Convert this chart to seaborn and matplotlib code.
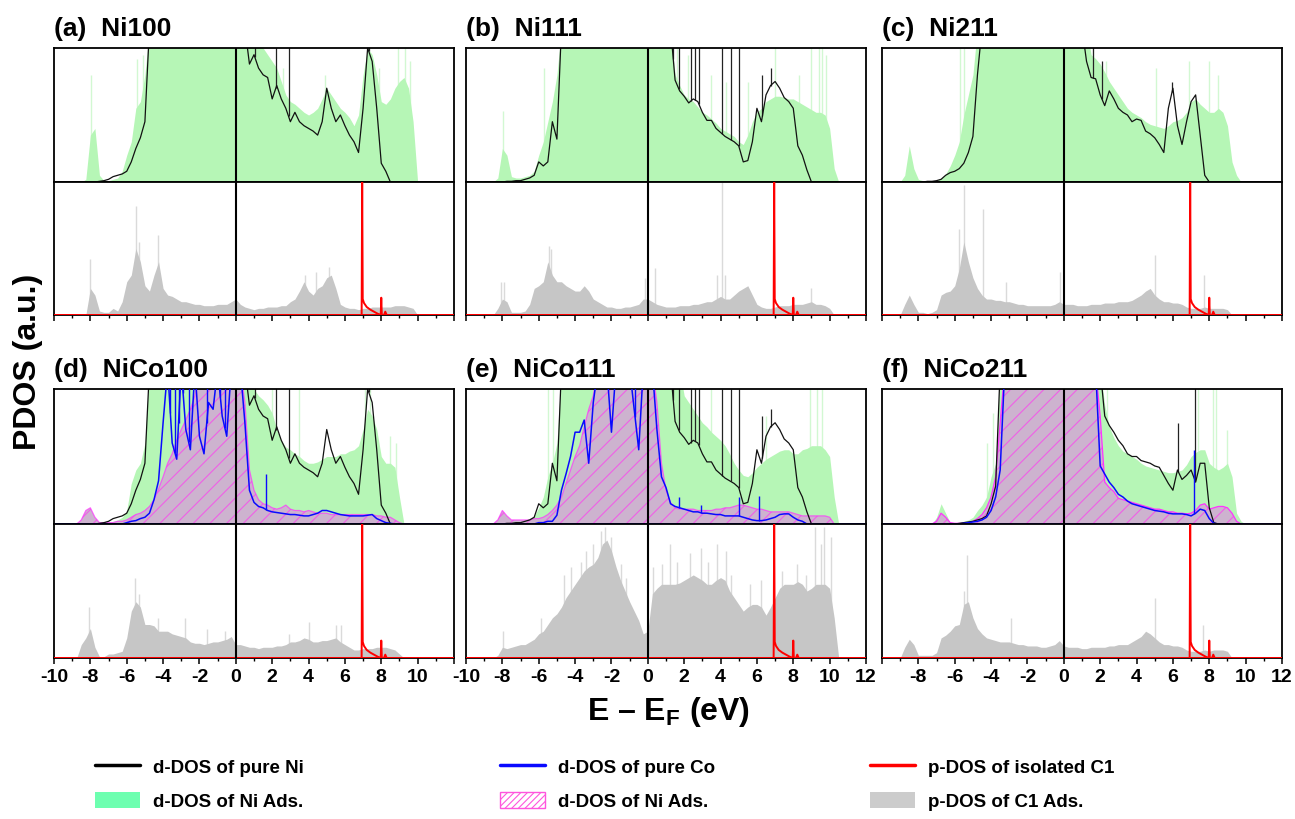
import numpy as np
import matplotlib
matplotlib.use('Agg')
import matplotlib.pyplot as plt
import seaborn as sns
from matplotlib.patches import Patch
from matplotlib.lines import Line2D
from matplotlib.ticker import MultipleLocator
from matplotlib import font_manager

# energy grid (eV), 0.25 eV step, -9 ... 10.75
E = np.arange(-9.0, 10.76, 0.25)

# ---- (a) Ni100 ----
green_a = [0, 0, 0, 2, 35, 40, 5, 1,
           1, 2, 3, 8, 20, 30, 55, 60,
           80, 115, 115, 115, 115, 115, 115, 115,
           115, 115, 115, 115, 115, 115, 115, 115,
           115, 115, 115, 115, 115, 115, 115, 115,
           115, 115, 100, 95, 90, 85, 75, 65,
           60, 58, 55, 52, 50, 52, 55, 62,
           70, 65, 60, 55, 52, 48, 42, 50,
           80, 100, 95, 80, 60, 58, 62, 70,
           75, 78, 70, 45, 0, 0, 0, 0]
black_100 = [0, 0, 0, 0, 0, 0, 0.5, 1,
             2, 4, 5, 6, 8, 15, 25, 33,
             45, 115, 115, 115, 115, 115, 115, 115,
             115, 115, 115, 115, 115, 115, 115, 115,
             115, 115, 115, 115, 115, 115, 115, 88,
             95, 85, 80, 78, 62, 72, 62, 55,
             45, 52, 45, 42, 40, 38, 35, 45,
             70, 55, 45, 50, 42, 35, 30, 22,
             55, 100, 90, 55, 14, 8, 0, 0,
             0, 0, 0, 0, 0, 0, 0, 0]
grey_a = [0, 0, 0, 0, 20, 15, 3, 2,
          2, 5, 3, 10, 25, 30, 50, 40,
          22, 18, 30, 40, 20, 15, 14, 12,
          10, 10, 9, 8, 8, 7, 7, 7,
          8, 8, 8, 10, 12, 8, 6, 5,
          4, 5, 5, 6, 6, 6, 7, 7,
          10, 12, 18, 25, 18, 15, 20, 22,
          28, 30, 20, 8, 6, 5, 5, 4,
          5, 5, 6, 6, 6, 6, 6, 7,
          7, 7, 6, 5, 0, 0, 0, 0]

# ---- (b) Ni111 ----
green_b = [0, 0, 0, 3, 25, 20, 4, 3,
           3, 4, 5, 8, 20, 30, 45, 60,
           80, 115, 115, 115, 115, 115, 115, 115,
           115, 115, 115, 115, 115, 115, 115, 115,
           115, 115, 115, 115, 115, 115, 115, 115,
           115, 115, 80, 72, 65, 62, 60, 56,
           52, 50, 47, 44, 40, 38, 36, 34,
           30, 28, 35, 45, 52, 55, 60, 62,
           64, 64, 63, 62, 62, 60, 58, 56,
           54, 52, 52, 50, 40, 10, 0, 0]
black_111 = [0, 0, 0, 0, 0, 0.5, 0.5, 1,
             1, 2, 3, 5, 15, 12, 15, 45,
             32, 115, 115, 115, 115, 115, 115, 115,
             115, 115, 115, 115, 115, 115, 115, 115,
             115, 115, 115, 115, 115, 115, 115, 115,
             115, 115, 76, 68, 64, 59, 62, 60,
             52, 46, 46, 40, 37, 34, 32, 30,
             27, 15, 16, 30, 55, 45, 65, 72,
             75, 70, 63, 60, 55, 27, 20, 9,
             0, 0, 0, 0, 0, 0, 0, 0]
grey_b = [0, 0, 0, 5, 12, 10, 2, 2,
          2, 3, 8, 20, 22, 25, 40, 30,
          25, 25, 22, 20, 18, 18, 22, 18,
          12, 10, 8, 6, 6, 5, 5, 6,
          6, 7, 8, 12, 12, 10, 8, 7,
          6, 6, 6, 7, 7, 7, 8, 8,
          9, 10, 10, 12, 14, 12, 12, 15,
          18, 20, 22, 15, 8, 6, 5, 5,
          6, 7, 7, 7, 8, 8, 8, 9,
          10, 8, 8, 7, 5, 0, 0, 0]

# ---- (c) Ni211 ----
green_c = [0, 5, 27, 10, 2, 1, 1, 1,
           1, 3, 6, 12, 20, 30, 50, 65,
           80, 115, 115, 115, 115, 115, 115, 115,
           115, 115, 115, 115, 115, 115, 115, 115,
           115, 115, 115, 115, 115, 115, 115, 115,
           115, 115, 95, 92, 88, 82, 75, 70,
           65, 60, 55, 52, 50, 48, 45, 43,
           42, 41, 40, 42, 45, 46, 48, 52,
           60, 62, 58, 55, 52, 52, 55, 52,
           42, 15, 5, 0, 0, 0, 0, 0]
black_211 = [0, 0, 0, 0, 0, 0, 0.5, 0.5,
             1, 2, 5, 7, 8, 10, 14, 22,
             34, 80, 115, 115, 115, 115, 115, 115,
             115, 115, 115, 115, 115, 115, 115, 115,
             115, 115, 115, 115, 115, 115, 115, 115,
             115, 90, 78, 77, 65, 57, 68, 62,
             55, 52, 50, 45, 47, 46, 38, 36,
             33, 28, 22, 55, 70, 42, 28, 45,
             60, 65, 35, 5, 0, 0, 0, 0,
             0, 0, 0, 0, 0, 0, 0, 0]
grey_c = [0, 8, 15, 8, 2, 2, 1, 2,
          4, 15, 17, 18, 22, 35, 55, 40,
          28, 20, 15, 12, 12, 11, 11, 10,
          10, 9, 8, 8, 7, 7, 7, 7,
          7, 7, 8, 10, 8, 8, 8, 7,
          7, 7, 8, 8, 8, 9, 9, 9,
          10, 10, 10, 11, 13, 15, 18, 20,
          15, 12, 10, 10, 9, 9, 8, 6,
          5, 5, 5, 6, 5, 5, 5, 5,
          4, 0, 0, 0, 0, 0, 0, 0]

# ---- (d) NiCo100 ----
green_d = [0, 0, 0, 3, 5, 2, 1, 1,
           1, 2, 3, 5, 10, 30, 40, 45,
           60, 115, 115, 115, 115, 115, 115, 115,
           115, 115, 115, 115, 115, 115, 115, 115,
           115, 115, 115, 115, 115, 115, 115, 115,
           100, 95, 92, 88, 82, 70, 62, 57,
           55, 52, 50, 47, 45, 45, 46, 48,
           50, 50, 50, 52, 52, 54, 55, 58,
           70, 85, 80, 70, 50, 45, 45, 42,
           20, 0, 0, 0, 0, 0, 0, 0]
magenta_d = [0, 0, 3, 10, 12, 5, 1, 1,
             1, 1, 2, 2, 3, 5, 7, 8,
             10, 13, 18, 26, 35, 45, 52, 62,
             70, 77, 85, 95, 115, 115, 115, 115,
             115, 115, 115, 115, 115, 115, 90, 40,
             25, 18, 15, 14, 12, 11, 12, 14,
             11, 10, 10, 9, 10, 9, 8, 8,
             8, 7, 7, 7, 7, 7, 7, 7,
             7, 7, 7, 6, 6, 5, 5, 3,
             1, 0, 0, 0, 0, 0, 0, 0]
blue_d = [0, 0, 0, 0, 0, 0, 0, 0,
          0, 0, 0, 0, 1, 2, 2.5, 4,
          5, 8, 18, 32, 75, 115, 60, 48,
          115, 70, 55, 115, 65, 52, 90, 85,
          115, 80, 65, 115, 115, 115, 75, 25,
          16, 13, 12, 10, 9, 8.5, 8, 7.5,
          7, 7, 6.5, 6, 6, 7, 8, 10,
          10, 9, 8, 7, 6.5, 6, 6, 6,
          6, 6.5, 7, 4, 2.5, 1, 0.5, 0,
          0, 0, 0, 0, 0, 0, 0, 0]
grey_d = [0, 0, 10, 15, 22, 8, 1, 1,
          3, 3, 4, 5, 15, 35, 42, 38,
          25, 25, 24, 20, 20, 20, 18, 17,
          16, 15, 12, 11, 11, 10, 11, 12,
          12, 13, 14, 16, 10, 10, 9, 8,
          8, 7, 8, 8, 8, 9, 9, 10,
          12, 12, 13, 15, 14, 12, 12, 13,
          13, 14, 15, 12, 10, 8, 6, 6,
          7, 7, 7, 8, 8, 8, 7, 6,
          3, 0, 0, 0, 0, 0, 0, 0]

# ---- (e) NiCo111 ----
green_e = [0, 0, 0, 2, 5, 3, 2, 2,
           2, 3, 4, 6, 12, 20, 35, 45,
           60, 115, 115, 115, 115, 115, 115, 115,
           115, 115, 115, 115, 115, 115, 115, 115,
           115, 115, 115, 115, 115, 115, 115, 115,
           115, 115, 115, 115, 95, 90, 85, 80,
           75, 72, 68, 65, 62, 58, 52, 45,
           40, 36, 35, 38, 42, 45, 48, 50,
           52, 54, 55, 55, 52, 52, 55, 56,
           58, 58, 58, 55, 50, 20, 0, 0]
magenta_e = [0, 0, 0, 3, 10, 6, 3, 3,
             3, 3, 3, 4, 4, 5, 7, 10,
             14, 20, 30, 40, 50, 58, 72, 85,
             95, 115, 115, 115, 115, 115, 115, 115,
             115, 115, 115, 115, 115, 115, 90, 45,
             25, 16, 12, 11, 11, 11, 11, 10,
             10, 10, 10, 11, 11, 12, 12, 13,
             14, 14, 13, 12, 11, 11, 10, 9,
             9, 9, 9, 9, 8, 7, 6, 6,
             6, 6, 6, 6, 5, 0, 0, 0]
blue_e = [0, 0, 0, 0, 0, 0, 0, 0,
          0, 0, 0, 0, 1, 1, 2, 2,
          6.5, 25, 37, 50, 68, 68, 77, 45,
          90, 115, 115, 115, 68, 115, 115, 115,
          115, 85, 55, 115, 115, 115, 70, 35,
          27, 15, 13, 12, 11, 10, 9, 9,
          8, 8, 7.5, 7, 7, 6, 6, 6,
          6, 5, 4, 3, 2.5, 2.5, 3, 4,
          5, 7, 7.5, 7.5, 5, 3, 2, 0,
          0, 0, 0, 0, 0, 0, 0, 0]
grey_e = [0, 0, 0, 2, 8, 7, 8, 9,
          10, 10, 12, 14, 18, 20, 25, 30,
          33, 38, 45, 50, 55, 60, 65, 68,
          70, 75, 85, 88, 80, 68, 58, 50,
          42, 35, 28, 18, 20, 48, 52, 55,
          55, 55, 55, 56, 58, 60, 62, 60,
          58, 55, 55, 58, 60, 58, 50, 45,
          40, 35, 38, 40, 40, 38, 32, 38,
          45, 52, 55, 55, 55, 57, 55, 50,
          52, 55, 55, 55, 52, 30, 0, 0]

# ---- (f) NiCo211 ----
green_f = [0, 0, 0, 0, 0, 0, 0, 0,
           5, 15, 8, 1, 1, 1, 2, 3,
           5, 10, 14, 20, 35, 45, 115, 115,
           115, 115, 115, 115, 115, 115, 115, 115,
           115, 115, 115, 115, 115, 115, 115, 115,
           115, 115, 115, 115, 115, 88, 72, 64,
           58, 54, 52, 50, 48, 45, 43, 42,
           41, 40, 39, 38, 38, 39, 40, 44,
           50, 53, 55, 55, 45, 42, 40, 42,
           45, 35, 8, 2, 0, 0, 0, 0]
magenta_f = [0, 0, 0, 0, 0, 0, 0, 0,
             2, 8, 5, 1, 0.5, 0.5, 0.5, 1,
             2, 4, 7, 12, 20, 35, 75, 115,
             115, 115, 115, 115, 115, 115, 115, 115,
             115, 115, 115, 115, 115, 115, 115, 115,
             115, 115, 115, 115, 80, 31, 27, 24,
             19, 18, 17, 16, 15, 14, 13, 12,
             11, 11, 10, 9, 9, 8, 8, 7.5,
             8, 10, 14, 15, 11, 12, 13, 13,
             12, 8, 2, 0, 0, 0, 0, 0]
blue_f = [0, 0, 0, 0, 0, 0, 0, 0,
          0, 0, 0, 0, 0, 0, 0.5, 1,
          1.5, 2, 3, 5, 10, 20, 40, 115,
          115, 115, 115, 115, 115, 115, 115, 115,
          115, 115, 115, 115, 115, 115, 115, 115,
          115, 115, 115, 115, 43, 37, 31, 27,
          22, 20, 17, 15, 14, 13, 12, 11,
          10, 9.5, 9, 8, 7.5, 7.5, 7.5, 7,
          6, 8, 11, 10, 4, 0.5, 0, 0,
          0, 0, 0, 0, 0, 0, 0, 0]
black_f = [0, 0, 0, 0, 0, 0, 0, 0,
           0, 0, 0, 0, 0, 0.5, 1, 1.5,
           2, 3, 4, 6, 15, 28, 115, 115,
           115, 115, 115, 115, 115, 115, 115, 115,
           115, 115, 115, 115, 115, 115, 115, 115,
           115, 115, 115, 115, 115, 80, 73, 68,
           62, 58, 52, 50, 50, 47, 46, 45,
           43, 42, 36, 30, 25, 40, 33, 36,
           40, 31, 45, 45, 12, 1, 0, 0,
           0, 0, 0, 0, 0, 0, 0, 0]
grey_f = [0, 8, 14, 10, 2, 2, 2, 2,
          4, 15, 17, 20, 24, 25, 40, 42,
          30, 22, 18, 15, 14, 13, 12, 12,
          12, 11, 10, 10, 9, 9, 9, 8,
          8, 9, 10, 13, 9, 8, 8, 8,
          7, 7, 8, 8, 8, 8, 9, 9,
          10, 10, 10, 12, 14, 16, 20, 18,
          15, 12, 10, 10, 9, 9, 8, 6,
          5, 5, 5, 6, 5, 6, 6, 6,
          5, 0, 0, 0, 0, 0, 0, 0]

# p-DOS of isolated C1 (same in every panel)
red_E = [-10, 6.92, 6.95, 6.98, 7.05, 7.2, 7.4, 7.6, 7.8, 7.97, 8.0, 8.03, 8.15, 8.22, 8.3, 12]
red_v = [0, 0, 105, 12, 9, 6, 4, 2.5, 1, 0, 13, 0, 0, 2.5, 0, 0]

# thin pale spikes (E, height)
gspk_a = [(-7.95, 80), (-5.45, 92), (-5.1, 95), (2.6, 85), (4.9, 80), (7.9, 85), (8.9, 100), (9.3, 100), (9.6, 90)]
gspk_b = [(-7.95, 53), (-5.7, 85), (1.6, 100), (2.2, 95), (3.5, 80), (4.3, 75), (5.5, 75), (7.0, 115),
          (8.3, 80), (9.0, 115), (9.4, 115), (9.6, 100), (9.8, 95)]
gspk_c = [(-5.7, 100), (-5.5, 100), (1.6, 100), (2.3, 90), (5.05, 85), (6.9, 90), (8.0, 90), (8.5, 80)]
gspk_d = [(-5.7, 30), (2.0, 100), (3.5, 100), (7.1, 115), (7.4, 115), (8.5, 65), (8.8, 60)]
gspk_e = [(-5.5, 100), (-5.2, 115), (3.5, 100), (6.5, 80), (8.9, 115), (9.3, 115), (9.6, 100)]
gspk_f = [(-4.2, 60), (-3.9, 82), (2.4, 115), (7.4, 115), (8.2, 115), (8.35, 115), (9.0, 70)]

pspk_a = [(-8.0, 42), (-5.5, 82), (-5.3, 55), (-4.3, 60), (3.8, 30), (4.4, 32), (5.1, 36)]
pspk_b = [(-8.1, 25), (-7.9, 25), (-5.45, 52), (-5.3, 50), (-0.15, 28), (0.4, 35), (3.8, 30),
          (4.07, 100), (4.25, 30), (9.0, 20)]
pspk_c = [(-5.75, 65), (-5.5, 98), (-4.45, 80), (-3.2, 25), (-0.2, 32), (5.0, 45), (7.7, 30)]
pspk_d = [(-8.1, 38), (-5.55, 60), (-5.35, 48), (-4.3, 30), (-2.8, 30), (-1.6, 22), (-0.6, 20),
          (2.9, 18), (4.0, 27), (5.5, 25), (5.8, 25)]
pspk_e = [(-7.95, 20), (-5.9, 30), (-4.6, 62), (-4.2, 68), (-3.7, 72), (-3.4, 80), (-3.0, 85),
          (-2.6, 95), (-2.35, 98), (-2.0, 90), (-1.5, 70), (-1.2, 60), (0.3, 68), (0.8, 70),
          (1.2, 85), (1.6, 72), (2.3, 78), (2.9, 82), (3.3, 72), (3.8, 85), (4.3, 80), (4.6, 62),
          (5.6, 55), (6.2, 58), (7.4, 65), (8.2, 70), (8.7, 62), (9.2, 98), (9.5, 85), (9.7, 98),
          (10.1, 90)]
pspk_f = [(-5.5, 50), (-5.3, 77), (-2.9, 30), (5.0, 45), (7.67, 25)]

kspk_111 = [(1.4, 115), (1.7, 115), (2.35, 115), (2.6, 115), (2.8, 115), (4.1, 100), (4.55, 100),
            (5.0, 100), (6.3, 80), (6.75, 85)]
kspk_100 = [(1.05, 115), (2.2, 115), (2.9, 115), (7.3, 115)]
kspk_211 = [(1.6, 115), (2.1, 90), (5.95, 75)]
kspk_f = [(6.3, 75), (7.2, 115)]
bspk_d = [(-3.6, 115), (-3.35, 115), (-3.15, 115), (-2.9, 115), (-2.6, 115), (-1.6, 115),
          (-1.1, 115), (-0.85, 115), (-0.6, 115), (1.68, 37)]
bspk_e = [(-2.9, 115), (-2.4, 115), (-1.2, 115), (-0.7, 115), (1.7, 20), (2.9, 14), (5.0, 20), (6.1, 21)]
bspk_f = [(7.15, 55)]

titles = ['(a)  Ni100', '(b)  Ni111', '(c)  Ni211', '(d)  NiCo100', '(e)  NiCo111', '(f)  NiCo211']
ticks = [-10, -8, -6, -4, -2, 0, 2, 4, 6, 8, 10, 12]
tick_shown = [[t for t in ticks if t != 12], ticks, [t for t in ticks if t != -10]]

panels = [
    dict(green=green_a, black=black_100, grey=grey_a, gs=gspk_a, ps=pspk_a, ks=kspk_100),
    dict(green=green_b, black=black_111, grey=grey_b, gs=gspk_b, ps=pspk_b, ks=kspk_111),
    dict(green=green_c, black=black_211, grey=grey_c, gs=gspk_c, ps=pspk_c, ks=kspk_211),
    dict(green=green_d, black=black_100, grey=grey_d, gs=gspk_d, ps=pspk_d, ks=kspk_100,
         mag=magenta_d, blue=blue_d, bs=bspk_d),
    dict(green=green_e, black=black_111, grey=grey_e, gs=gspk_e, ps=pspk_e, ks=kspk_111,
         mag=magenta_e, blue=blue_e, bs=bspk_e),
    dict(green=green_f, black=black_f, grey=grey_f, gs=gspk_f, ps=pspk_f, ks=kspk_f,
         mag=magenta_f, blue=blue_f, bs=bspk_f),
]

GREEN = '#b6f6b6'
GREEN_PALE = '#d2f8d2'
GREY = '#c6c6c6'
GREY_PALE = '#dadada'
HATCH_FACE = '#cdb3cf'
MAGENTA = '#ff33ff'
BLUE = '#0a0aff'
RED = '#ff0000'

sns.set_theme(style='white')
names = {f.name for f in font_manager.fontManager.ttflist}
main_font = 'Liberation Sans' if 'Liberation Sans' in names else 'DejaVu Sans'
plt.rcParams['font.family'] = [main_font, 'DejaVu Sans']
plt.rcParams['text.color'] = 'black'
plt.rcParams['xtick.color'] = 'black'
plt.rcParams['axes.labelcolor'] = 'black'
plt.rcParams['mathtext.fontset'] = 'custom'
plt.rcParams['mathtext.bf'] = main_font + ':bold'
plt.rcParams['mathtext.rm'] = main_font
plt.rcParams['hatch.linewidth'] = 0.8

fig = plt.figure(figsize=(12.95, 8.2), dpi=100)
W, H = 1295.0, 820.0
col_left = [54, 466, 882]
col_w = 400
rows = [(49, 183, 316), (390, 525, 659)]


def spikes(ax, sp, color, lw, z, base=None):
    xs = np.array([s[0] for s in sp])
    hs = np.array([s[1] for s in sp])
    lo = np.zeros_like(xs) if base is None else np.interp(xs, E, base)
    ax.vlines(xs, lo, hs, color=color, lw=lw, zorder=z)


def style(ax, row, col, is_bottom):
    ax.set_xlim(-10, 12)
    ax.set_ylim(0, 100)
    ax.set_yticks([])
    for s in ax.spines.values():
        s.set_linewidth(1.3)
        s.set_color('black')
    ax.axvline(0, color='black', lw=1.5, zorder=6)
    ax.set_xticks(ticks)
    ax.xaxis.set_minor_locator(MultipleLocator(1))
    if is_bottom:
        ax.tick_params(axis='x', which='major', direction='out', length=4, width=1.1, bottom=True,
                       pad=3, colors='black')
        ax.tick_params(axis='x', which='minor', direction='out', length=2.5, width=1.0, bottom=True,
                       colors='black')
        if row == 1:
            ax.set_xticklabels([str(t) if t in tick_shown[col] else '' for t in ticks],
                               fontsize=14, fontweight='bold', color='black')
        else:
            ax.set_xticklabels([])
    else:
        ax.tick_params(axis='x', which='both', bottom=False, labelbottom=False)
    ax.set_xlabel('')
    ax.set_ylabel('')


for k, p in enumerate(panels):
    row, col = divmod(k, 3)
    top, mid, bot = rows[row]
    x0 = col_left[col] / W
    ax_t = fig.add_axes([x0, 1 - mid / H, col_w / W, (mid - top) / H])
    ax_b = fig.add_axes([x0, 1 - bot / H, col_w / W, (bot - mid) / H])

    # d-DOS sub panel
    spikes(ax_t, p['gs'], GREEN_PALE, 1.0, 0.9)
    ax_t.fill_between(E, 0, p['green'], color=GREEN, lw=0, zorder=1)
    if 'mag' in p:
        ax_t.fill_between(E, 0, p['mag'], facecolor=HATCH_FACE, edgecolor='#f060e6',
                          hatch='//', lw=0, zorder=1.5)
        sns.lineplot(x=E, y=np.array(p['mag'], float), ax=ax_t, color=MAGENTA, lw=0.9,
                     alpha=0.7 if k < 5 else 1.0, zorder=2)
    spikes(ax_t, p['ks'], '#222222', 0.9, 2.5, base=p['black'])
    sns.lineplot(x=E, y=np.array(p['black'], float), ax=ax_t, color='#111111', lw=0.9, zorder=2.5)
    if 'blue' in p:
        spikes(ax_t, p['bs'], BLUE, 1.0, 3, base=p['blue'])
        sns.lineplot(x=E, y=np.array(p['blue'], float), ax=ax_t, color=BLUE, lw=1.1, zorder=3)
        ax_t.axhline(0, color=BLUE, lw=1.4, zorder=5)
        if k == 5:
            ax_t.axhline(0, color=MAGENTA, lw=1.0, zorder=5.1)
    style(ax_t, row, col, False)

    # p-DOS sub panel
    spikes(ax_b, p['ps'], GREY_PALE, 1.0, 0.9)
    ax_b.fill_between(E, 0, p['grey'], color=GREY, lw=0, zorder=1)
    sns.lineplot(x=np.array(red_E, float), y=np.array(red_v, float), ax=ax_b, color=RED, lw=1.4, zorder=4)
    ax_b.axhline(0, color=RED, lw=1.4, zorder=5)
    style(ax_b, row, col, True)

    fig.text(col_left[col] / W, 1 - (top - 20) / H, titles[k], fontsize=19, fontweight='bold',
             ha='left', va='center')

fig.text(668 / W, 1 - 712 / H, r'E – E$_\mathbf{F}$ (eV)', fontsize=23, fontweight='bold',
         ha='center', va='center')
fig.text(28 / W, 1 - 362 / H, 'PDOS (a.u.)', fontsize=23, fontweight='bold', rotation=90,
         ha='center', va='center')

# legend: three columns placed at their own x positions
leg_cols = [
    ([Line2D([], [], color='black', lw=2.5), Patch(facecolor='#6dffb0', edgecolor='none')],
     ['d-DOS of pure Ni', 'd-DOS of Ni Ads.'], 95),
    ([Line2D([], [], color=BLUE, lw=2.5),
      Patch(facecolor='white', edgecolor='#ff55dd', hatch='/////', lw=1.0)],
     ['d-DOS of pure Co', 'd-DOS of Ni Ads.'], 500),
    ([Line2D([], [], color=RED, lw=2.5), Patch(facecolor='#cccccc', edgecolor='none')],
     ['p-DOS of isolated C1', 'p-DOS of C1 Ads.'], 870),
]
for hs, ls, xpx in leg_cols:
    fig.legend(hs, ls, loc='center left', bbox_to_anchor=(xpx / W, 1 - 785 / H),
               frameon=False, borderpad=0, borderaxespad=0, handlelength=2.4, handleheight=0.9,
               handletextpad=0.7, labelspacing=0.85, labelcolor='black',
               prop={'family': main_font, 'weight': 'bold', 'size': 13.5})

fig.savefig('out.png', dpi=100)
